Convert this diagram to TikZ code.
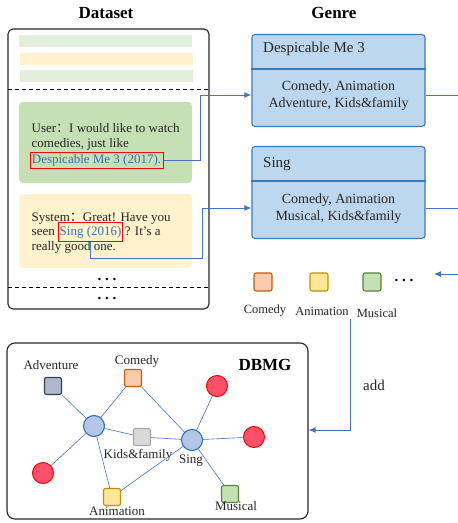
\documentclass[tikz,border=0pt]{standalone}
\usepackage{fontspec}
\setmainfont{Liberation Serif}
\newfontfamily\cjk{Noto Sans CJK SC}
\usetikzlibrary{arrows.meta}
\definecolor{lgreen}{HTML}{E2EFDA}
\definecolor{lorange}{HTML}{FFF2CC}
\definecolor{mgreen}{HTML}{C5E0B4}
\definecolor{gfill}{HTML}{BDD7EE}
\definecolor{gborder}{HTML}{3A7AC0}
\definecolor{conncol}{HTML}{4472C4}
\definecolor{linkblue}{HTML}{2E75B6}
\definecolor{txtcol}{HTML}{262626}
\definecolor{comfill}{HTML}{F8CBAD}\definecolor{comdraw}{HTML}{C55A11}
\definecolor{anifill}{HTML}{FFE699}\definecolor{anidraw}{HTML}{BF9000}
\definecolor{musfill}{HTML}{C5E0B4}\definecolor{musdraw}{HTML}{548235}
\definecolor{advfill}{HTML}{ADB9CA}\definecolor{advdraw}{HTML}{333F50}
\definecolor{kidfill}{HTML}{D9D9D9}\definecolor{kiddraw}{HTML}{A6A6A6}
\definecolor{redfill}{HTML}{FF5069}
\definecolor{itemfill}{HTML}{B4C7E7}
\begin{document}
\begin{tikzpicture}[x=1pt,y=-1pt,
  title/.style={font=\fontsize{17}{17}\selectfont\bfseries, inner sep=0, text=black},
  txt/.style={inner sep=0, anchor=base west, font=\fontsize{13}{15}\selectfont, text=txtcol},
  redbox/.style={draw=red, line width=0.8pt, inner xsep=2pt, inner ysep=1.5pt, text height=9.5pt, text depth=3pt, anchor=base west, font=\fontsize{13}{15}\selectfont, text=linkblue},
  genrebox/.style={draw=gborder, fill=gfill, line width=1.1pt, rounded corners=3pt, minimum width=173pt, minimum height=92pt, inner sep=0},
  gtitle/.style={font=\fontsize{15}{15}\selectfont, inner sep=0, anchor=west, text=txtcol},
  gbody/.style={font=\fontsize{14}{17}\selectfont, inner sep=0, align=center, text=txtcol},
  conn/.style={draw=conncol, line width=1pt},
  tip/.style={-{Latex[length=7pt,width=6pt]}},
  sq/.style={rounded corners=2pt, line width=1.1pt, minimum size=17pt, inner sep=0},
  lab/.style={font=\fontsize{13}{13}\selectfont, inner sep=0, text=txtcol},
  item/.style={circle, draw=linkblue, fill=itemfill, line width=1.1pt, minimum size=21pt, inner sep=0},
  user/.style={circle, draw=red, fill=redfill, line width=1pt, minimum size=21pt, inner sep=0},
  edge/.style={draw=conncol, line width=0.6pt},
  dots/.style={font=\fontsize{15}{15}\selectfont\bfseries, inner sep=0}
]
\useasboundingbox (0,0) rectangle (458,523);

% titles
\node[title] (dstitle) at (106,13) {Dataset};
\node[title] (gtitle) at (334,13) {Genre};

% dataset box
\draw[rounded corners=5pt, line width=1.1pt, draw=black!85] (8,29) rectangle (209,309);
\fill[lgreen] (19,35) rectangle (192,47);
\fill[lorange] (20,53) rectangle (193,65);
\fill[lgreen] (20,70) rectangle (193,82);
\draw[dashed, line width=0.9pt, dash pattern=on 4pt off 3pt] (8,89) -- (209,89);
\fill[mgreen, rounded corners=4pt] (19,102) rectangle (192,183);
\fill[lorange, rounded corners=4pt] (19,194) rectangle (192,268);
\node[dots] (dd1) at (107,279) {.\ .\ .};
\draw[dashed, line width=0.9pt, dash pattern=on 4pt off 3pt] (8,287) -- (209,287);
\node[dots] (dd2) at (107,298) {.\ .\ .};

% dialogue text
\node[txt] (u1) at (31.5,132) {User{\cjk ：}I would like to watch};
\node[txt] (u2) at (31.5,147.5) {comedies, just like};
\node[redbox] (dm) at (29.5,163.5) {Despicable Me 3 (2017).};
\node[txt] (s1) at (31.5,221) {System{\cjk ：}Great! Have you};
\node[txt] (s2) at (31.5,235.5) {seen};
\node[redbox, inner xsep=1.3pt, inner ysep=3.2pt] (sing) at ([xshift=3pt]s2.base east) {Sing (2016)};
\node[txt] (s3) at ([xshift=1.5pt]sing.base east) {? It’s a};
\node[txt] (s4) at (31.5,250) {really good one.};

% genre boxes
\node[genrebox] (g1) at (338.5,80.5) {};
\draw[draw=gborder, line width=1.1pt] (g1.west |- 0,69) -- (g1.east |- 0,69);
\node[gtitle] (g1t) at (263,49) {Despicable Me 3};
\node[gbody] (g1b) at (338.5,95.5) {Comedy, Animation\\Adventure, Kids\&family};

\node[genrebox] (g2) at (338.5,192.5) {};
\draw[draw=gborder, line width=1.1pt] (g2.west |- 0,181) -- (g2.east |- 0,181);
\node[gtitle] (g2t) at (263,164) {Sing};
\node[gbody] (g2b) at (338.5,208.5) {Comedy, Animation\\Musical, Kids\&family};

% connectors dataset -> genre
\draw[conn, tip] (dm.east) -| (200,95) -- (g1.west |- 0,95);
\draw[conn, tip] (sing.south) |- (202,258) -- (202,208) -- (g2.west |- 0,208);

% lines leaving to the right
\coordinate (r1) at (458,95);
\coordinate (r2) at (458,208);
\coordinate (r3) at (458,274);
\coordinate (a3) at (434,274);
\draw[conn] (g1.east |- r1) -- (r1);
\draw[conn] (g2.east |- r2) -- (r2);
\draw[conn, tip] (r3) -- (a3);

% genre legend
\node[sq, draw=comdraw, fill=comfill, minimum size=18pt] (lc) at (263,282) {};
\node[sq, draw=anidraw, fill=anifill, minimum size=18pt] (la) at (319,282) {};
\node[sq, draw=musdraw, fill=musfill, minimum size=18pt] (lm) at (372,282) {};
\node[dots] (ld) at (404,280) {.\ .\ .};
\node[lab, font=\fontsize{12.5}{12.5}\selectfont] (lcl) at (265,311) {Comedy};
\node[lab, font=\fontsize{12.5}{12.5}\selectfont] (lal) at (322,311) {Animation};
\node[lab, font=\fontsize{12.5}{12.5}\selectfont] (lml) at (377,313) {Musical};

% DBMG box
\node[draw=black!85, line width=1.1pt, rounded corners=8pt, minimum width=301pt, minimum height=176pt, inner sep=0] (dbmg) at (157.5,431) {};
\node[title] (dbmgt) at (265,365) {DBMG};

% add connector
\coordinate (addtop) at (350,319);
\draw[conn, tip] (addtop) |- (dbmg.east |- 0,430);
\node[lab, font=\fontsize{15}{15}\selectfont] (addl) at (374,385) {add};

% graph nodes
\node[sq, draw=advdraw, fill=advfill] (adv) at (53,386) {};
\node[sq, draw=comdraw, fill=comfill] (com) at (133,378) {};
\node[sq, draw=kiddraw, fill=kidfill] (kid) at (142,437) {};
\node[sq, draw=anidraw, fill=anifill] (ani) at (112,497) {};
\node[sq, draw=musdraw, fill=musfill] (mus) at (230,494) {};
\node[item] (dm3) at (94,426) {};
\node[item] (sg) at (192,440) {};
\node[user] (u1c) at (217,386) {};
\node[user] (u2c) at (254,437) {};
\node[user] (u3c) at (43,473) {};

\node[lab] (advl) at (51,365) {Adventure};
\node[lab] (coml) at (137,361) {Comedy};
\node[lab] (kidl) at (138,455) {Kids\&family};
\node[lab] (sgl) at (191,461) {Sing};
\node[lab] (anil) at (117,511) {Animation};
\node[lab] (musl) at (236,506) {Musical};

\draw[edge] (adv) -- (dm3);
\draw[edge] (com) -- (dm3);
\draw[edge] (com) -- (sg);
\draw[edge] (dm3) -- (kid);
\draw[edge] (kid) -- (sg);
\draw[edge] (dm3) -- (u3c);
\draw[edge] (dm3) -- (ani);
\draw[edge] (ani) -- (sg);
\draw[edge] (sg) -- (u1c);
\draw[edge] (sg) -- (u2c);
\draw[edge] (sg) -- (mus);
\end{tikzpicture}
\end{document}
